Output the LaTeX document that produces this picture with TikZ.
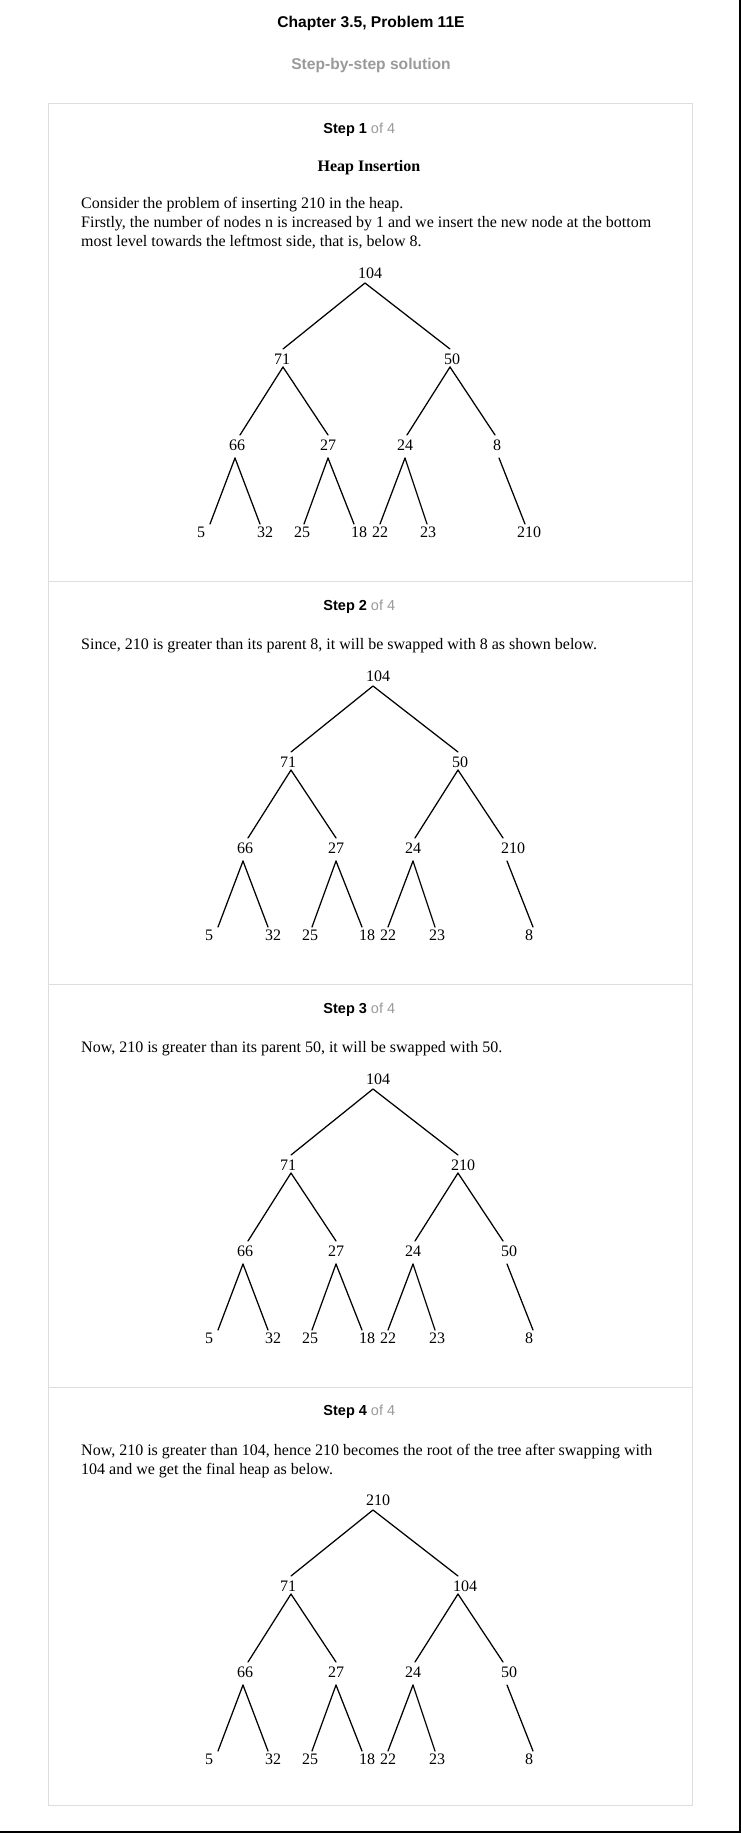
\documentclass[tikz,border=0pt]{standalone}
\usepackage{fontspec}
\setmainfont{Liberation Serif}
\setsansfont{Liberation Sans}
\definecolor{boxgray}{HTML}{DDDDDD}
\definecolor{softgray}{HTML}{9A9A9A}

\tikzset{
  tl/.style={font=\fontsize{16}{16}\selectfont, inner sep=0pt, text height=10.9pt, text depth=0pt, anchor=center},
  edge/.style={line width=1.25pt, line cap=round},
  para/.style={font=\fontsize{16}{19}\selectfont, anchor=base west, inner sep=0pt},
  steplab/.style={font=\sffamily\fontsize{14.5}{14.5}\selectfont, anchor=base, inner sep=0pt},
  frameline/.style={draw=boxgray, line width=1pt},
}

% tree geometry (image pixels, relative to apex x and root label y)
\def\LY{{0,86,86,172,172,172,172,259,259,259,259,259,259,259}}
\def\TX{{0,-82,85,-125,-37,42,130,-155,-105,-61,-11,15,62,160}}
\def\BX{{0,-82,85,-130,-37,40,134,0,0,0,0,0,0,0}}
\def\TG{{0,10,10,10,10,10,10,8,8,8,8,8,8,8}}
\def\BG{{10,8,8,13,13,13,13,0,0,0,0,0,0,0}}

\newcommand\heaptree[4]{%
  \foreach \t/\lx [count=\i] in {#4} {
    \pgfmathtruncatemacro\k{\i-1}
    \pgfmathsetmacro\yy{\LY[\k]}
    \node[tl] (#1-\i) at ({#2+(\lx)},{#3+\yy}) {\t};
    \expandafter\xdef\csname lx-#1-\i\endcsname{\lx}
  }
  \foreach \c in {2,...,14} {
    \pgfmathtruncatemacro\p{floor(\c/2)}
    \pgfmathtruncatemacro\pk{\p-1}
    \pgfmathtruncatemacro\ck{\c-1}
    \pgfmathsetmacro\pdx{\BX[\pk]-(\csname lx-#1-\p\endcsname)}
    \pgfmathsetmacro\pdy{\BG[\pk]}
    \pgfmathsetmacro\cdx{\TX[\ck]-(\csname lx-#1-\c\endcsname)}
    \pgfmathsetmacro\cdy{\TG[\ck]}
    \draw[edge] ([shift={(\pdx,\pdy)}]#1-\p.center) -- ([shift={(\cdx,-\cdy)}]#1-\c.center);
  }
}

\begin{document}
\begin{tikzpicture}[x=1pt,y=-1pt]
\useasboundingbox (0,0) rectangle (741,1833);
\fill[white] (0,0) rectangle (741,1833);

% outer frame lines of the screenshot
\draw[line width=1.5pt] (740.2,0) -- (740.2,1833);
\draw[line width=1.5pt] (0,1832.2) -- (741,1832.2);

% heading
\node[font=\sffamily\bfseries\fontsize{15.6}{16}\selectfont, anchor=base, inner sep=0pt] (title) at (371,28) {Chapter 3.5, Problem 11E};
\node[font=\sffamily\bfseries\fontsize{15.6}{16}\selectfont, anchor=base, inner sep=0pt, text=softgray] (subtitle) at (371,69.5) {Step-by-step solution};

% solution box and separators
\draw[frameline] (48,104) rectangle (692,1805);
\draw[frameline] (48,581) -- (692,581);
\draw[frameline] (48,984) -- (692,984);
\draw[frameline] (48,1387) -- (692,1387);

% Step 1
\node[steplab] (s1) at (359.3,133) {\textbf{Step 1} \textcolor{softgray}{of 4}};
\node[font=\bfseries\fontsize{16}{16}\selectfont, anchor=base, inner sep=0pt] (h1) at (369,171) {Heap Insertion};
\node[para] (p1a) at (81,208) {Consider the problem of inserting 210 in the heap.};
\node[para] (p1b) at (81,227) {Firstly, the number of nodes n is increased by 1 and we insert the new node at the bottom};
\node[para] (p1c) at (81,246) {most level towards the leftmost side, that is, below 8.};
\heaptree{ta}{365}{273}{104/5, 71/-83, 50/87, 66/-128, 27/-37, 24/40, 8/132, 5/-164, 32/-100, 25/-63, 18/-6, 22/15, 23/63, 210/164}

% Step 2
\node[steplab] (s2) at (359.3,610) {\textbf{Step 2} \textcolor{softgray}{of 4}};
\node[para] (p2a) at (81,649) {Since, 210 is greater than its parent 8, it will be swapped with 8 as shown below.};
\heaptree{tb}{373}{676}{104/5, 71/-85, 50/87, 66/-128, 27/-37, 24/40, 210/140, 5/-164, 32/-100, 25/-63, 18/-6, 22/15, 23/64, 8/156}

% Step 3
\node[steplab] (s3) at (359.3,1013) {\textbf{Step 3} \textcolor{softgray}{of 4}};
\node[para] (p3a) at (81,1052) {Now, 210 is greater than its parent 50, it will be swapped with 50.};
\heaptree{tc}{373}{1079}{104/5, 71/-85, 210/90, 66/-128, 27/-37, 24/40, 50/136, 5/-164, 32/-100, 25/-63, 18/-6, 22/15, 23/64, 8/156}

% Step 4
\node[steplab] (s4) at (359.3,1415.5) {\textbf{Step 4} \textcolor{softgray}{of 4}};
\node[para] (p4a) at (81,1455) {Now, 210 is greater than 104, hence 210 becomes the root of the tree after swapping with};
\node[para] (p4b) at (81,1474) {104 and we get the final heap as below.};
\heaptree{td}{373}{1500}{210/5, 71/-85, 104/92, 66/-128, 27/-37, 24/40, 50/136, 5/-164, 32/-100, 25/-63, 18/-6, 22/15, 23/64, 8/156}
\end{tikzpicture}
\end{document}
